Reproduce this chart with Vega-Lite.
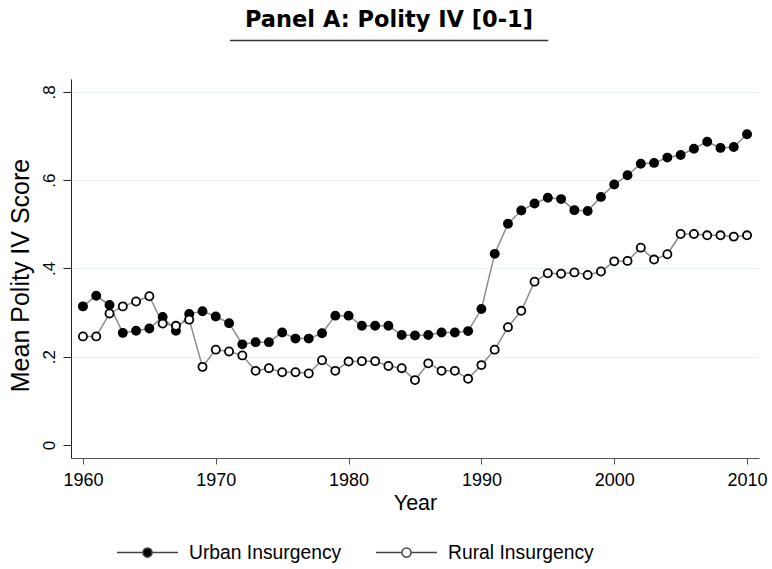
{
  "$schema": "https://vega.github.io/schema/vega-lite/v6.json",
  "width": 688,
  "height": 379,
  "autosize": "none",
  "padding": {"left": 71, "top": 79, "right": 13, "bottom": 111},
  "background": "white",
  "config": {
    "view": {"stroke": null},
    "font": "Liberation Sans",
    "axis": {"labelColor": "black", "titleColor": "black", "titleFontWeight": "normal"}
  },
  "title": {
    "text": "Panel A: Polity IV [0-1]",
    "subtitle": "─────────────────────────────────",
    "font": "DejaVu Sans",
    "fontSize": 22.5,
    "fontWeight": "bold",
    "color": "black",
    "subtitleFont": "DejaVu Sans",
    "subtitleFontSize": 16,
    "subtitleColor": "#333",
    "subtitlePadding": 2,
    "anchor": "middle",
    "dx": -26,
    "offset": 30
  },
  "data": {
    "values": [
      {"year": 1960, "Urban Insurgency": 0.314, "Rural Insurgency": 0.246},
      {"year": 1961, "Urban Insurgency": 0.338, "Rural Insurgency": 0.246},
      {"year": 1962, "Urban Insurgency": 0.317, "Rural Insurgency": 0.298},
      {"year": 1963, "Urban Insurgency": 0.254, "Rural Insurgency": 0.314},
      {"year": 1964, "Urban Insurgency": 0.259, "Rural Insurgency": 0.325},
      {"year": 1965, "Urban Insurgency": 0.264, "Rural Insurgency": 0.337},
      {"year": 1966, "Urban Insurgency": 0.290, "Rural Insurgency": 0.275},
      {"year": 1967, "Urban Insurgency": 0.259, "Rural Insurgency": 0.270},
      {"year": 1968, "Urban Insurgency": 0.297, "Rural Insurgency": 0.284},
      {"year": 1969, "Urban Insurgency": 0.303, "Rural Insurgency": 0.177},
      {"year": 1970, "Urban Insurgency": 0.291, "Rural Insurgency": 0.216},
      {"year": 1971, "Urban Insurgency": 0.276, "Rural Insurgency": 0.212},
      {"year": 1972, "Urban Insurgency": 0.228, "Rural Insurgency": 0.203},
      {"year": 1973, "Urban Insurgency": 0.233, "Rural Insurgency": 0.168},
      {"year": 1974, "Urban Insurgency": 0.233, "Rural Insurgency": 0.174},
      {"year": 1975, "Urban Insurgency": 0.255, "Rural Insurgency": 0.165},
      {"year": 1976, "Urban Insurgency": 0.241, "Rural Insurgency": 0.165},
      {"year": 1977, "Urban Insurgency": 0.241, "Rural Insurgency": 0.162},
      {"year": 1978, "Urban Insurgency": 0.253, "Rural Insurgency": 0.192},
      {"year": 1979, "Urban Insurgency": 0.293, "Rural Insurgency": 0.168},
      {"year": 1980, "Urban Insurgency": 0.293, "Rural Insurgency": 0.189},
      {"year": 1981, "Urban Insurgency": 0.270, "Rural Insurgency": 0.190},
      {"year": 1982, "Urban Insurgency": 0.270, "Rural Insurgency": 0.190},
      {"year": 1983, "Urban Insurgency": 0.270, "Rural Insurgency": 0.179},
      {"year": 1984, "Urban Insurgency": 0.249, "Rural Insurgency": 0.174},
      {"year": 1985, "Urban Insurgency": 0.248, "Rural Insurgency": 0.147},
      {"year": 1986, "Urban Insurgency": 0.249, "Rural Insurgency": 0.185},
      {"year": 1987, "Urban Insurgency": 0.255, "Rural Insurgency": 0.168},
      {"year": 1988, "Urban Insurgency": 0.255, "Rural Insurgency": 0.168},
      {"year": 1989, "Urban Insurgency": 0.258, "Rural Insurgency": 0.150},
      {"year": 1990, "Urban Insurgency": 0.308, "Rural Insurgency": 0.181},
      {"year": 1991, "Urban Insurgency": 0.433, "Rural Insurgency": 0.216},
      {"year": 1992, "Urban Insurgency": 0.501, "Rural Insurgency": 0.267},
      {"year": 1993, "Urban Insurgency": 0.531, "Rural Insurgency": 0.304},
      {"year": 1994, "Urban Insurgency": 0.547, "Rural Insurgency": 0.370},
      {"year": 1995, "Urban Insurgency": 0.560, "Rural Insurgency": 0.389},
      {"year": 1996, "Urban Insurgency": 0.557, "Rural Insurgency": 0.388},
      {"year": 1997, "Urban Insurgency": 0.532, "Rural Insurgency": 0.391},
      {"year": 1998, "Urban Insurgency": 0.530, "Rural Insurgency": 0.385},
      {"year": 1999, "Urban Insurgency": 0.562, "Rural Insurgency": 0.393},
      {"year": 2000, "Urban Insurgency": 0.590, "Rural Insurgency": 0.416},
      {"year": 2001, "Urban Insurgency": 0.611, "Rural Insurgency": 0.417},
      {"year": 2002, "Urban Insurgency": 0.637, "Rural Insurgency": 0.447},
      {"year": 2003, "Urban Insurgency": 0.639, "Rural Insurgency": 0.420},
      {"year": 2004, "Urban Insurgency": 0.651, "Rural Insurgency": 0.432},
      {"year": 2005, "Urban Insurgency": 0.657, "Rural Insurgency": 0.478},
      {"year": 2006, "Urban Insurgency": 0.671, "Rural Insurgency": 0.478},
      {"year": 2007, "Urban Insurgency": 0.687, "Rural Insurgency": 0.475},
      {"year": 2008, "Urban Insurgency": 0.673, "Rural Insurgency": 0.475},
      {"year": 2009, "Urban Insurgency": 0.675, "Rural Insurgency": 0.472},
      {"year": 2010, "Urban Insurgency": 0.704, "Rural Insurgency": 0.475}
    ]
  },
  "transform": [
    {"fold": ["Urban Insurgency", "Rural Insurgency"], "as": ["series", "value"]}
  ],
  "encoding": {
    "x": {
      "field": "year", "type": "quantitative",
      "scale": {"domain": [1959.1, 2010.9], "nice": false, "zero": false},
      "axis": {
        "title": "Year", "values": [1960, 1970, 1980, 1990, 2000, 2010], "format": "d",
        "labelFontSize": 18, "titleFontSize": 21.5, "tickSize": 6,
        "domainColor": "#555", "tickColor": "#555", "grid": false,
        "labelPadding": 7, "titlePadding": 3, "labelFlush": false
      }
    },
    "y": {
      "field": "value", "type": "quantitative",
      "scale": {"domain": [-0.0294, 0.829], "nice": false, "zero": false},
      "axis": {
        "title": "Mean Polity IV Score", "values": [0, 0.2, 0.4, 0.6, 0.8],
        "labelExpr": "datum.value == 0 ? '0' : replace(format(datum.value, '.1f'), '0.', '.')",
        "labelAngle": -90, "labelAlign": "center", "labelBaseline": "bottom",
        "labelFontSize": 17, "titleFontSize": 25, "tickSize": 8,
        "domainColor": "#222", "tickColor": "#222",
        "grid": true, "gridColor": "#eaf2f3", "gridWidth": 1.2,
        "gridOpacity": {"condition": {"test": "datum.value == 0", "value": 0}, "value": 1},
        "labelPadding": 5, "titlePadding": 7, "titleY": 196
      }
    }
  },
  "layer": [
    {
      "mark": {"type": "line", "color": "#8c8c8c", "strokeWidth": 1.5},
      "encoding": {"detail": {"field": "series"}}
    },
    {
      "mark": {"type": "point", "filled": false, "stroke": "black", "strokeWidth": 1.8, "opacity": 1, "size": 66},
      "encoding": {
        "fill": {
          "field": "series", "type": "nominal",
          "scale": {"domain": ["Urban Insurgency", "Rural Insurgency"], "range": ["black", "white"]},
          "legend": {
            "title": null, "orient": "none", "legendX": 45, "legendY": 442,
            "direction": "horizontal", "columns": 2, "columnPadding": 31,
            "symbolType": "M-1,0H-0.15M0.15,0H1M0.15,0A0.15,0.15 0 1,1 -0.15,0A0.15,0.15 0 1,1 0.15,0Z",
            "symbolSize": 3721, "symbolStrokeColor": "#444", "symbolStrokeWidth": 1.5,
            "labelFontSize": 19.3, "labelOffset": 10, "labelColor": "black"
          }
        }
      }
    }
  ]
}
